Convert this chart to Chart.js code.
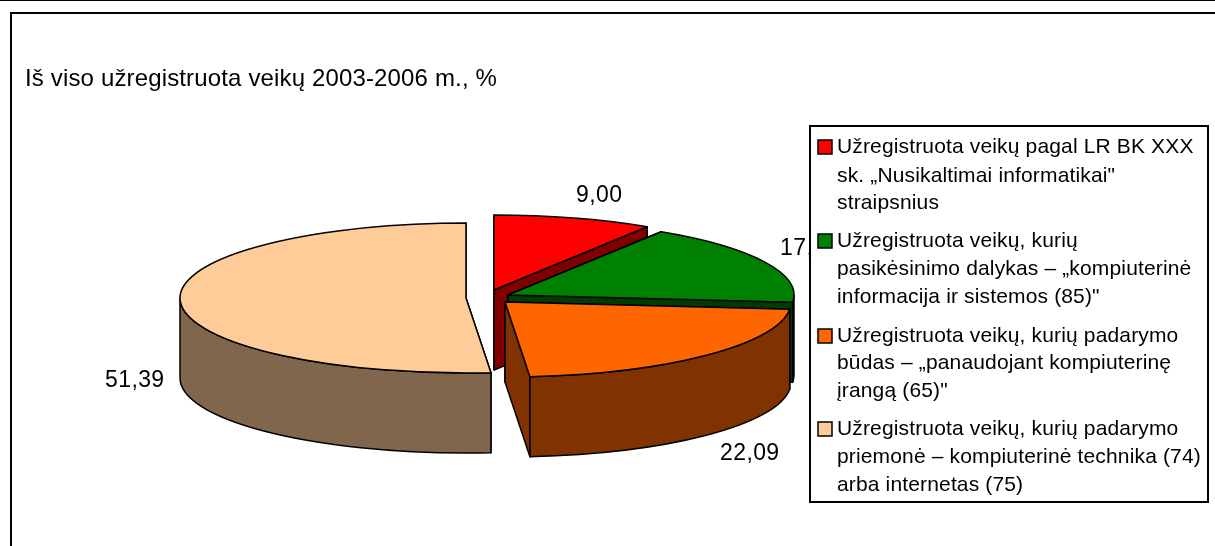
<!DOCTYPE html>
<html>
<head>
<meta charset="utf-8">
<style>html,body{margin:0;padding:0;background:#fff}canvas{display:block}</style>
<script src="https://cdn.jsdelivr.net/npm/chart.js@4/dist/chart.umd.min.js"></script>
</head>
<body>
<canvas id="c" width="1215" height="546"></canvas>
<script>
const chartTitle = 'Iš viso užregistruota veikų 2003-2006 m., %';
const legendLine1 = ['Užregistruota veikų pagal LR BK XXX', 'sk. „Nusikaltimai informatikai"', 'straipsnius'];
const legendLine2 = ['Užregistruota veikų, kurių', 'pasikėsinimo dalykas – „kompiuterinė', 'informacija ir sistemos (85)"'];
const legendLine3 = ['Užregistruota veikų, kurių padarymo', 'būdas – „panaudojant kompiuterinę', 'įrangą (65)"'];
const legendLine4 = ['Užregistruota veikų, kurių padarymo', 'priemonė – kompiuterinė technika (74)', 'arba internetas (75)'];
const categories = [legendLine1, legendLine2, legendLine3, legendLine4].map(l => l.join(' '));
const values = [9.00, 17.52, 22.09, 51.39];

const topColors = ['#FF0000', '#008000', '#FF6600', '#FFCC99'];
const wallColors = ['#800000', '#003C00', '#803300', '#80664D'];

// view / style settings for the tilted pie
const FAMILY = '"Liberation Sans", Arial, sans-serif';
const TILT = 0.262, DEPTH = 80, RADIUS = 286;
const EXPLODE = [[-1, -7], [13, -2], [10, 5], [-29, 1]];
const LABEL_POS = [[576, 202], [780, 255], [720, 460], [105, 387]];
const LEGEND_BOX = {l: 810, t: 126, r: 1208, b: 502};
const LEGEND_TEXT_X = 837, SWATCH_X = 818, SWATCH = 14;
const LEGEND_BASE = [[153, 182, 209], [247, 275, 303], [342, 369, 397], [435, 463, 491]];

const tilted3D = {
  id: 'tilted3D',
  beforeDraw(chart) {
    const ctx = chart.ctx;
    ctx.save();
    ctx.fillStyle = '#fff';
    ctx.fillRect(0, 0, chart.width, chart.height);
    ctx.fillStyle = '#000';
    ctx.fillRect(0, 0, chart.width, 1);
    ctx.fillRect(10, 12, chart.width - 10, 2);
    ctx.fillRect(10, 12, 2, chart.height - 12);
    ctx.restore();
    ctx.letterSpacing = '0.15px';
  },
  beforeDatasetsDraw(chart) {
    const ctx = chart.ctx;
    const arcs = chart.getDatasetMeta(0).data;
    arcs.forEach((arc, i) => {
      const {x: cx, y: cy, startAngle: a0, endAngle: a1, outerRadius: R} = arc.getProps(['x', 'y', 'startAngle', 'endAngle', 'outerRadius'], true);
      const ax = cx + EXPLODE[i][0], ay = cy + EXPLODE[i][1];
      const ry = R * TILT;
      const px = a => ax + R * Math.cos(a), py = a => ay + ry * Math.sin(a);
      ctx.save();
      ctx.lineWidth = 1.5;
      ctx.strokeStyle = '#000';
      ctx.lineJoin = 'round';
      ctx.fillStyle = wallColors[i];
      // radial cut faces
      [a0, a1].forEach(a => {
        ctx.beginPath();
        ctx.moveTo(ax, ay);
        ctx.lineTo(px(a), py(a));
        ctx.lineTo(px(a), py(a) + DEPTH);
        ctx.lineTo(ax, ay + DEPTH);
        ctx.closePath();
        ctx.fill();
        ctx.stroke();
      });
      // outer rim (front half only)
      const r0 = Math.max(a0, 0), r1 = Math.min(a1, Math.PI);
      if (r1 > r0) {
        ctx.beginPath();
        ctx.ellipse(ax, ay, R, ry, 0, r0, r1);
        ctx.ellipse(ax, ay + DEPTH, R, ry, 0, r1, r0, true);
        ctx.closePath();
        ctx.fill();
        ctx.stroke();
      }
      // top face: the library's own arc, seen through the tilt
      ctx.save();
      ctx.translate(ax, ay);
      ctx.scale(1, TILT);
      ctx.translate(-cx, -cy);
      arc.draw(ctx);
      ctx.restore();
      ctx.beginPath();
      ctx.moveTo(ax, ay);
      ctx.ellipse(ax, ay, R, ry, 0, a0, a1);
      ctx.closePath();
      ctx.stroke();
      ctx.restore();
    });
    return false;
  },
  afterDraw(chart) {
    const ctx = chart.ctx;
    ctx.save();
    ctx.font = '23px ' + FAMILY;
    ctx.letterSpacing = '0.4px';
    ctx.textBaseline = 'alphabetic';
    ctx.textAlign = 'left';
    ctx.fillStyle = '#000';
    values.forEach((v, i) => {
      ctx.fillText(v.toFixed(2).replace('.', ','), LABEL_POS[i][0], LABEL_POS[i][1]);
    });
    const b = LEGEND_BOX;
    ctx.fillStyle = '#fff';
    ctx.fillRect(b.l, b.t, b.r - b.l, b.b - b.t);
    ctx.strokeStyle = '#000';
    ctx.lineWidth = 2;
    ctx.strokeRect(b.l, b.t, b.r - b.l, b.b - b.t);
    ctx.font = '21px ' + FAMILY;
    ctx.letterSpacing = '0.15px';
    [legendLine1, legendLine2, legendLine3, legendLine4].forEach((lines, i) => {
      const base = LEGEND_BASE[i];
      ctx.fillStyle = topColors[i];
      ctx.lineWidth = 1.5;
      ctx.fillRect(SWATCH_X, base[0] - SWATCH + 1, SWATCH, SWATCH);
      ctx.strokeRect(SWATCH_X, base[0] - SWATCH + 1, SWATCH, SWATCH);
      ctx.fillStyle = '#000';
      lines.forEach((t, j) => ctx.fillText(t, LEGEND_TEXT_X, base[j]));
    });
    ctx.restore();
  }
};

new Chart(document.getElementById('c'), {
  type: 'pie',
  data: {
    labels: categories,
    datasets: [{
      data: values,
      backgroundColor: topColors,
      borderWidth: 0,
      clip: false
    }]
  },
  options: {
    responsive: false,
    animation: false,
    radius: RADIUS,
    layout: {padding: {left: 25, right: 250, top: 65, bottom: 45.8}},
    plugins: {
      legend: {display: false},
      tooltip: {enabled: false},
      title: {
        display: true,
        text: chartTitle,
        align: 'start',
        color: '#000',
        font: {family: FAMILY, size: 24, weight: 'normal', lineHeight: 1.2},
        padding: 0
      }
    }
  },
  plugins: [tilted3D]
});
</script>
</body>
</html>
